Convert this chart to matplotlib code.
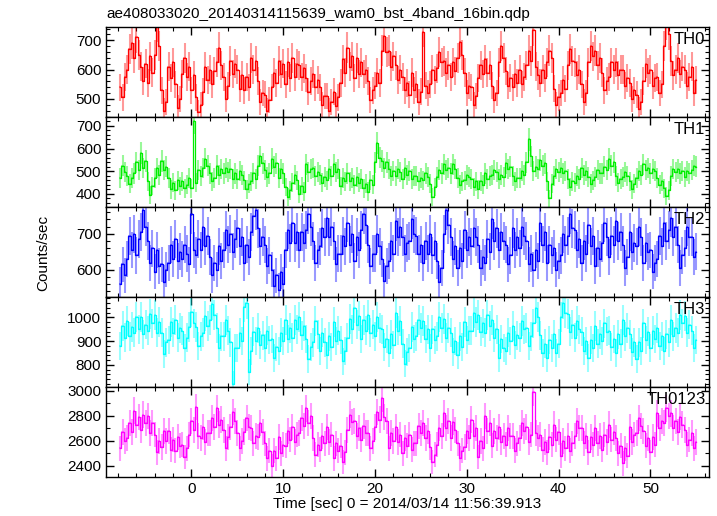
import numpy as np
import matplotlib.pyplot as plt
from matplotlib.ticker import MultipleLocator

plt.rcParams["font.family"] = ["Liberation Sans", "DejaVu Sans"]

DT = 0.25
T0 = -7.75

th0 = [
    540, 505, 575, 600, 670, 690, 640, 710, 650, 610, 560, 620, 555, 645, 590,
    650, 750, 680, 530, 460, 490, 610, 570, 625, 550, 470, 500, 585, 640, 575,
    610, 530, 580, 505, 455, 480, 525, 610, 565, 600, 550, 595, 625, 675, 615,
    575, 500, 545, 630, 585, 620, 600, 535, 580, 530, 575, 540, 640, 600, 630,
    560, 490, 520, 515, 460, 495, 540, 590, 555, 630, 585, 620, 550, 625, 570,
    640, 575, 620, 615, 575, 605, 570, 525, 560, 585, 540, 565, 540, 480, 510,
    510, 460, 490, 525, 475, 505, 555, 635, 590, 675, 610, 645, 570, 640, 585,
    625, 585, 600, 560, 495, 530, 545, 590, 555, 665, 715, 660, 665, 610, 645,
    615, 565, 600, 575, 530, 555, 515, 590, 530,
    550, 490, 525, 730, 545, 520, 550, 600, 565, 605, 660, 625, 630, 590, 615,
    575, 625, 595, 640, 695, 650, 590, 520, 545, 540, 480, 510, 570, 615, 585,
    635, 590, 615, 545, 495, 520, 625, 680, 640, 595, 545, 570, 540, 585, 555,
    600, 550, 575, 615, 665, 630, 735, 610, 580, 555, 600, 570, 625, 665, 640,
    535, 480, 505, 520, 565, 535, 615, 670, 630, 625, 580, 600, 550, 490, 520,
    625, 680, 645, 665, 615, 640, 590, 530, 560, 575, 625, 600, 625, 580, 600,
    600, 545, 570, 555, 500, 530, 515, 465, 490, 560, 620, 590, 600, 545, 570,
    575, 520, 550, 680, 755, 720, 630, 580, 600, 640, 585, 610, 600, 545, 575,
    610, 520, 565,
]

th1 = [
    470, 525, 495, 480, 445, 470, 490, 540, 505, 580, 515, 545, 455, 395, 435,
    470, 515, 485, 545, 505, 520, 470, 420, 450, 415, 460, 435, 455, 425, 440,
    470, 425, 720, 450, 505, 480, 515, 555, 525, 490, 455, 470, 525, 485, 510,
    490, 515, 495, 510, 465, 490, 465, 500, 485, 460, 420, 445, 455, 490, 465,
    525, 565, 535, 505, 475, 490, 555, 520, 535, 470, 510, 490, 430, 385, 415,
    450, 485, 460, 400, 435, 410, 530, 495, 510, 515, 480, 495, 485, 450, 475,
    460, 510, 480, 530, 495, 510, 435, 470, 455, 490, 455, 470, 440, 475, 450,
    465, 425, 445, 410, 460, 440, 540, 625, 560, 545, 515, 540, 510, 480, 500,
    480, 510, 495, 465, 515, 485, 500, 465, 480,
    480, 455, 470, 460, 490, 475, 445, 385, 430, 475, 505, 490, 530, 505, 515,
    490, 530, 510, 470, 440, 455, 460, 485, 475, 465, 430, 455, 420, 455, 440,
    490, 465, 480, 485, 505, 495, 465, 485, 475, 535, 510, 520, 480, 455, 470,
    470, 500, 485, 540, 640, 565, 500, 520, 510, 550, 525, 535, 455, 380, 445,
    480, 510, 495, 515, 490, 500, 465, 430, 455, 450, 480, 465, 515, 485, 500,
    475, 445, 460, 475, 505, 490, 490, 520, 505, 555, 525, 540, 480, 450, 465,
    475, 495, 480, 455, 420, 445, 470, 500, 485, 530, 505, 515, 490, 510, 500,
    470, 440, 455, 425, 390, 415, 480, 510, 495, 510, 490, 500, 475, 500, 490,
    505, 525, 520,
]

th2 = [
    560, 615, 585, 630, 695, 655, 700, 640, 685, 705, 765, 720, 680, 620, 660,
    595, 655, 610, 615, 565, 600, 620, 670, 630, 685, 625, 650, 630, 670, 645,
    615, 755, 655, 640, 685, 655, 720, 665, 695, 635, 585, 620, 600, 665, 625,
    655, 710, 670, 700, 650, 685, 715, 665, 690, 620, 670, 635, 705, 750, 765,
    715, 665, 690, 670, 610, 640, 600, 555, 585, 545, 595, 560, 655, 710, 675,
    730, 675, 705, 655, 705, 675, 710, 755, 720, 680, 620, 655, 665, 715, 690,
    745, 690, 720, 680, 615, 645, 645, 695, 665, 730, 670, 700, 625, 690, 655,
    710, 755, 725, 670, 610, 645, 645, 700, 665, 630, 570, 610, 625, 680, 645,
    735, 690, 720, 690, 645, 675, 680, 740, 700,
    695, 645, 670, 620, 680, 645, 700, 640, 680, 625, 565, 605, 700, 765, 725,
    690, 630, 665, 605, 660, 625, 710, 655, 690, 665, 715, 690, 670, 605, 635,
    620, 685, 650, 740, 680, 715, 655, 705, 680, 670, 615, 640, 715, 655, 690,
    660, 720, 695, 680, 615, 645, 600, 655, 625, 730, 670, 705, 620, 670, 640,
    660, 600, 625, 640, 700, 670, 695, 755, 715, 710, 655, 685, 620, 680, 645,
    725, 665, 695, 610, 660, 630, 675, 730, 690, 635, 695, 670, 735, 680, 705,
    670, 605, 635, 705, 650, 675, 665, 720, 690, 620, 675, 650, 655, 595, 620,
    630, 695, 665, 730, 680, 710, 745, 690, 720, 670, 605, 640, 660, 720, 690,
    690, 635, 650,
]

th3 = [
    880, 965, 915, 985, 920, 960, 935, 1000, 950, 1000, 930, 970, 945, 1015, 975,
    1010, 935, 980, 935, 845, 895, 905, 980, 935, 990, 915, 955, 945, 870, 915,
    960, 1025, 975, 960, 880, 920, 935, 1005, 965, 990, 1055, 1010, 955, 870, 920,
    920, 990, 945, 895, 720, 870, 870, 935, 900, 1045, 1060, 770, 860, 940, 900,
    955, 885, 925, 870, 945, 905, 910, 830, 875, 860, 935, 900, 990, 910, 955,
    915, 990, 950, 1000, 925, 965, 910, 825, 875, 895, 985, 930, 860, 935, 895,
    840, 920, 875, 980, 900, 945, 905, 815, 860, 915, 995, 950, 1040, 970, 1005,
    910, 990, 945, 1010, 935, 970, 920, 1000, 955, 950, 875, 910, 850, 930, 885,
    1020, 945, 985, 890, 805, 855, 870, 960, 910,
    920, 990, 955, 985, 910, 950, 870, 950, 905, 920, 1000, 955, 995, 915, 955,
    935, 855, 900, 840, 920, 875, 980, 905, 945, 945, 1020, 980, 1010, 940, 975,
    935, 1010, 965, 990, 915, 950, 830, 910, 870, 860, 935, 900, 965, 885, 925,
    915, 985, 950, 955, 880, 920, 975, 1040, 1000, 925, 850, 890, 830, 905, 870,
    930, 850, 890, 1000, 1060, 1020, 1015, 940, 970, 915, 985, 950, 940, 860, 900,
    830, 905, 870, 965, 890, 930, 900, 975, 940, 945, 875, 910, 850, 930, 890,
    990, 920, 955, 930, 855, 895, 825, 895, 860, 975, 905, 940, 870, 945, 910,
    955, 880, 920, 860, 930, 895, 990, 920, 955, 935, 1010, 975, 1005, 935, 970,
    945, 870, 905,
]

th0123 = [
    2540, 2670, 2600, 2620, 2740, 2670, 2840, 2730, 2790, 2690, 2810, 2740, 2800, 2660, 2740,
    2650, 2510, 2600, 2550, 2680, 2600, 2680, 2530, 2610, 2520, 2630, 2560, 2570, 2470, 2540,
    2650, 2760, 2690, 2870, 2640, 2620, 2710, 2590, 2660, 2660, 2780, 2710, 2860, 2730, 2770,
    2690, 2540, 2630, 2710, 2830, 2760, 2660, 2540, 2600, 2670, 2780, 2710, 2700, 2580, 2640,
    2630, 2740, 2670, 2580, 2460, 2520, 2400, 2520, 2460, 2630, 2500, 2570, 2560, 2680, 2610,
    2710, 2590, 2650, 2660, 2780, 2720, 2860, 2740, 2800, 2620, 2490, 2570, 2530, 2640, 2580,
    2710, 2590, 2650, 2460, 2580, 2520, 2560, 2430, 2510, 2690, 2810, 2750, 2760, 2640, 2700,
    2610, 2720, 2660, 2660, 2540, 2600, 2710, 2830, 2770, 2940, 2790, 2760, 2540, 2660, 2600,
    2710, 2590, 2650, 2500, 2620, 2560, 2650, 2530, 2580,
    2580, 2720, 2660, 2740, 2620, 2680, 2550, 2430, 2490, 2570, 2700, 2640, 2820, 2700, 2760,
    2620, 2750, 2690, 2580, 2460, 2520, 2550, 2680, 2620, 2770, 2640, 2700, 2470, 2600, 2540,
    2800, 2680, 2740, 2560, 2680, 2620, 2710, 2590, 2640, 2570, 2700, 2640, 2640, 2520, 2580,
    2620, 2740, 2680, 2710, 2590, 2650, 2990, 2660, 2620, 2650, 2530, 2590, 2510, 2630, 2570,
    2730, 2610, 2670, 2480, 2600, 2540, 2640, 2520, 2580, 2640, 2760, 2700, 2700, 2580, 2640,
    2510, 2630, 2570, 2700, 2580, 2640, 2530, 2650, 2590, 2730, 2610, 2670, 2620, 2500, 2560,
    2420, 2540, 2480, 2710, 2590, 2650, 2660, 2780, 2720, 2680, 2560, 2620, 2510, 2630, 2570,
    2820, 2700, 2760, 2740, 2860, 2800, 2820, 2700, 2760, 2670, 2790, 2730, 2690, 2570, 2610,
    2660, 2540, 2590,
]

names = ["TH0", "TH1", "TH2", "TH3", "TH0123"]
series = [th0, th1, th2, th3, th0123]
colors = ["#ff0000", "#00ee00", "#0000ff", "#00ffff", "#ff00ff"]
ylims = [(439, 746), (343, 740), (525, 775), (708, 1087), (2312, 3032)]
ymajor = [100, 100, 100, 100, 200]
yminor = [20, 20, 20, 20, 100]

fig, axes = plt.subplots(5, 1, sharex=True, figsize=(7.17, 5.16), dpi=100)
fig.subplots_adjust(left=0.148, right=0.989, top=0.948, bottom=0.076, hspace=0)

for i, ax in enumerate(axes):
    rate = np.array(series[i], dtype=float)
    t = T0 + DT * np.arange(len(rate))
    err = np.sqrt(rate / DT)
    ax.errorbar(t, rate, yerr=err, xerr=DT / 2, fmt="none", ecolor=colors[i],
                elinewidth=1.5, alpha=0.4, capsize=0)
    ax.step(t, rate, where="mid", color=colors[i], lw=0.9)
    ax.set_ylim(*ylims[i])
    ax.yaxis.set_major_locator(MultipleLocator(ymajor[i]))
    ax.yaxis.set_minor_locator(MultipleLocator(yminor[i]))
    ax.xaxis.set_major_locator(MultipleLocator(10))
    ax.xaxis.set_minor_locator(MultipleLocator(2))
    ax.tick_params(which="both", direction="in", top=True, right=True, labelsize=11)
    ax.tick_params(which="major", length=6, width=1)
    ax.tick_params(which="minor", length=3, width=0.8)
    for s in ax.spines.values():
        s.set_linewidth(1.0)
    ax.text(0.994, 0.94, names[i], transform=ax.transAxes, ha="right", va="top",
            fontsize=12)

axes[-1].set_xlim(-9.3, 56.4)
axes[-1].set_xlabel("Time [sec] 0 = 2014/03/14 11:56:39.913", fontsize=11, labelpad=1)
fig.text(0.06, 0.51, "Counts/sec", rotation=90, ha="center", va="center", fontsize=11)
axes[0].set_title("ae408033020_20140314115639_wam0_bst_4band_16bin.qdp",
                  loc="left", fontsize=11, pad=6)

plt.savefig("out.png")
